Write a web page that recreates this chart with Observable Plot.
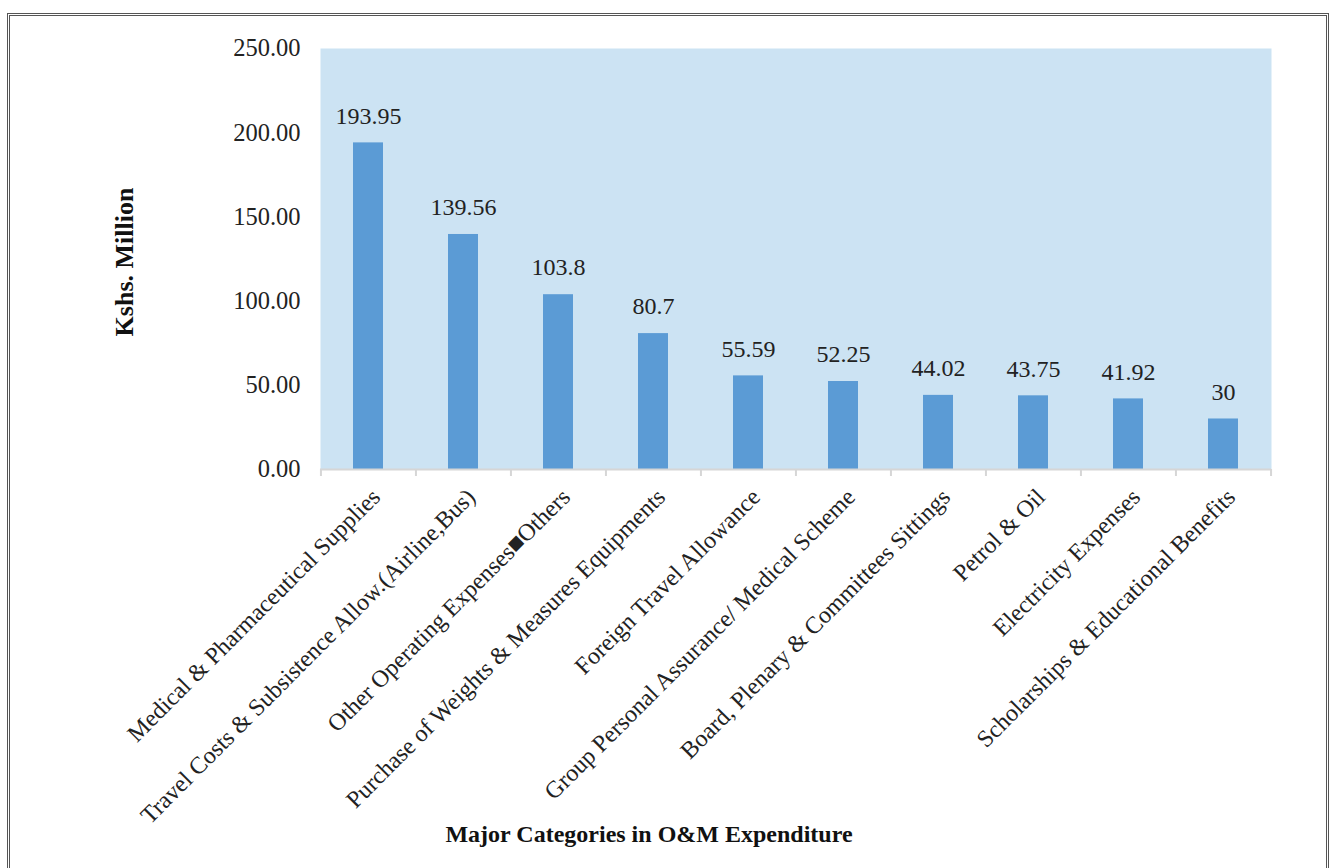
<!DOCTYPE html>
<html>
<head>
<meta charset="utf-8">
<script src="https://cdn.jsdelivr.net/npm/d3@7"></script>
<script src="https://cdn.jsdelivr.net/npm/@observablehq/plot@0.6"></script>
<style>
  html, body { margin: 0; padding: 0; background: #fff; }
  #wrap { position: relative; width: 1333px; height: 868px; overflow: hidden; }
  #frame { position: absolute; left: 7px; top: 13px; width: 1322px; height: 900px;
           border: 3px double #555; border-bottom: none; box-sizing: border-box; }
  #chart { position: absolute; left: 0; top: 0; }
</style>
</head>
<body>
<div id="wrap"><div id="frame"></div><div id="chart"></div></div>
<script>
const categories = [
  "Medical & Pharmaceutical Supplies",
  "Travel Costs & Subsistence Allow.(Airline,Bus)",
  "Other Operating Expenses\u25A0Others",
  "Purchase of Weights & Measures Equipments",
  "Foreign Travel Allowance",
  "Group Personal Assurance/ Medical Scheme",
  "Board, Plenary & Committees Sittings",
  "Petrol & Oil",
  "Electricity Expenses",
  "Scholarships & Educational Benefits"
];
const values = [193.95, 139.56, 103.8, 80.7, 55.59, 52.25, 44.02, 43.75, 41.92, 30];
const valueLabels = ["193.95", "139.56", "103.8", "80.7", "55.59", "52.25", "44.02", "43.75", "41.92", "30"];
const yTicks = [0, 50, 100, 150, 200, 250];
const yTitle = "Kshs. Million";
const xTitle = "Major Categories in O&M Expenditure";

const data = categories.map((c, i) => ({category: c, value: values[i], label: valueLabels[i]}));
const font = "'Liberation Serif', 'Times New Roman', serif";
const step = (1271 - 320) / categories.length;

const chart = Plot.plot({
  width: 1333,
  height: 868,
  marginLeft: 320,
  marginRight: 62,
  marginTop: 48,
  marginBottom: 399,
  style: {fontFamily: font, fontSize: "22px", color: "#222", background: "transparent"},
  x: {domain: categories, paddingInner: 0.685, paddingOuter: 0.3425, axis: null},
  y: {type: "linear", domain: [0, 250], axis: null},
  marks: [
    Plot.frame({fill: "#cce3f3", stroke: null}),
    Plot.barY(data, {x: "category", y: "value", fill: "#5b9bd5"}),
    Plot.ruleY([0], {stroke: "#d6d6d6", strokeWidth: 2}),
    Plot.axisX({tickSize: 7, dx: -step / 2, text: null, stroke: "#d6d6d6", strokeWidth: 2, label: null}),
    Plot.axisX({ticks: [categories[categories.length - 1]], tickSize: 7, dx: step / 2, text: null, stroke: "#d6d6d6", strokeWidth: 2, label: null}),
    Plot.axisY({ticks: yTicks, tickSize: 0, tickPadding: 20, tickFormat: d3.format(".2f"), fontSize: 24.5, label: null}),
    Plot.text(data, {x: "category", y: "value", text: "label", dy: -27, lineAnchor: "middle", fontSize: 24, fill: "#222"}),
    Plot.text(categories, {x: d => d, y: 0, text: d => d, rotate: -45, textAnchor: "end", lineAnchor: "top", dx: 1, dy: 17, fontSize: 24, fill: "#222"}),
    Plot.text([yTitle], {frameAnchor: "left", textAnchor: "middle", dx: -196, dy: 3, rotate: -90, fontWeight: "bold", fontSize: 26, fill: "#111"}),
    Plot.text([xTitle], {frameAnchor: "bottom", textAnchor: "middle", dx: -147, dy: 372, fontWeight: "bold", fontSize: 24, fill: "#111"})
  ]
});
document.getElementById("chart").appendChild(chart);
</script>
</body>
</html>
